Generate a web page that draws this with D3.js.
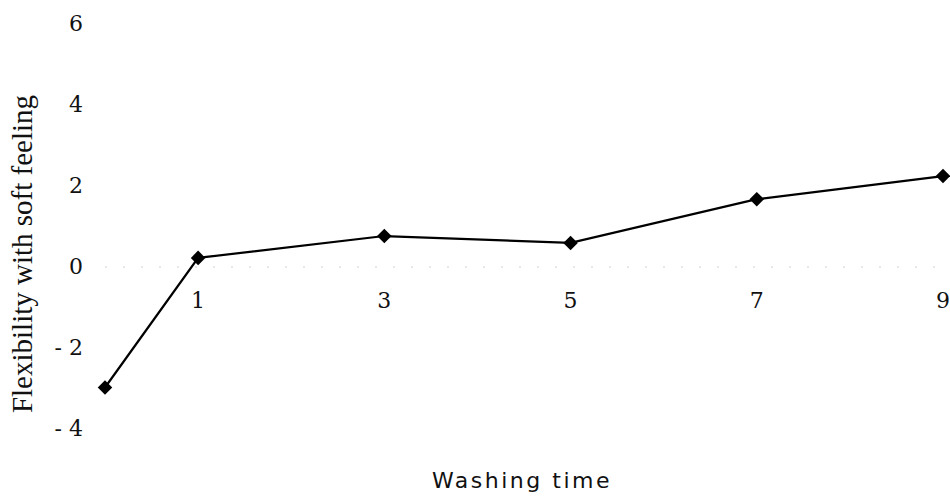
<!DOCTYPE html>
<html>
<head>
<meta charset="utf-8">
<script src="https://cdn.jsdelivr.net/npm/d3@7"></script>
<style>
  html, body { margin: 0; padding: 0; background: #fff; }
  svg { display: block; }
</style>
</head>
<body>
<svg id="chart" width="950" height="497"></svg>
<script>
// ---- data ----
const washingTimes = [0, 1, 3, 5, 7, 9];
const flexibility = [-3.0, 0.2, 0.74, 0.57, 1.65, 2.22];
const xTickValues = [1, 3, 5, 7, 9];
const yTickValues = [-4, -2, 0, 2, 4, 6];
const yTickLabels = ["- 4", "- 2", "0", "2", "4", "6"];
const xTitle = "Washing time";
const yTitle = "Flexibility with soft feeling";

// ---- layout ----
const svg = d3.select("#chart");
const x = d3.scaleLinear().domain([0, 9]).range([105, 943]);
const y = d3.scaleLinear().domain([-4, 6]).range([428, 23]);
const serif = "'Liberation Serif', 'DejaVu Serif', serif";
const tickFont = "'DejaVu Serif', 'Liberation Serif', serif";

// faint zero axis remnant
svg.append("line")
  .attr("x1", x(0)).attr("x2", 950)
  .attr("y1", y(0) + 1).attr("y2", y(0) + 1)
  .attr("stroke", "#cfcfcf")
  .attr("stroke-width", 1)
  .attr("stroke-dasharray", "2 16");

// y tick labels
svg.append("g").selectAll("text")
  .data(yTickValues)
  .join("text")
  .attr("x", 83)
  .attr("y", d => y(d))
  .attr("dy", "0.36em")
  .attr("text-anchor", "end")
  .attr("font-family", tickFont)
  .attr("font-size", 22)
  .attr("fill", "#111")
  .text((d, i) => yTickLabels[i]);

// x tick labels
svg.append("g").selectAll("text")
  .data(xTickValues)
  .join("text")
  .attr("x", d => x(d))
  .attr("y", y(0) + 34)
  .attr("dy", "0.36em")
  .attr("text-anchor", "middle")
  .attr("font-family", tickFont)
  .attr("font-size", 22)
  .attr("fill", "#111")
  .text(d => d);

// line
const pts = washingTimes.map((t, i) => ({ t, v: flexibility[i] }));
svg.append("path")
  .datum(pts)
  .attr("fill", "none")
  .attr("stroke", "#000")
  .attr("stroke-width", 2.2)
  .attr("d", d3.line().x(d => x(d.t)).y(d => y(d.v)));

// markers
svg.append("g").selectAll("path")
  .data(pts)
  .join("path")
  .attr("transform", d => `translate(${x(d.t)},${y(d.v)})`)
  .attr("d", d3.symbol(d3.symbolDiamond2, 135))
  .attr("fill", "#000");

// axis titles
svg.append("text")
  .attr("transform", "translate(22,254) rotate(-90)")
  .attr("dy", "0.35em")
  .attr("text-anchor", "middle")
  .attr("font-family", serif)
  .attr("font-size", 29)
  .attr("fill", "#111")
  .text(yTitle);

svg.append("text")
  .attr("x", 522)
  .attr("y", 488)
  .attr("text-anchor", "middle")
  .attr("font-family", "'DejaVu Sans', sans-serif")
  .attr("font-size", 22)
  .attr("letter-spacing", 2.5)
  .attr("fill", "#111")
  .text(xTitle);
</script>
</body>
</html>
